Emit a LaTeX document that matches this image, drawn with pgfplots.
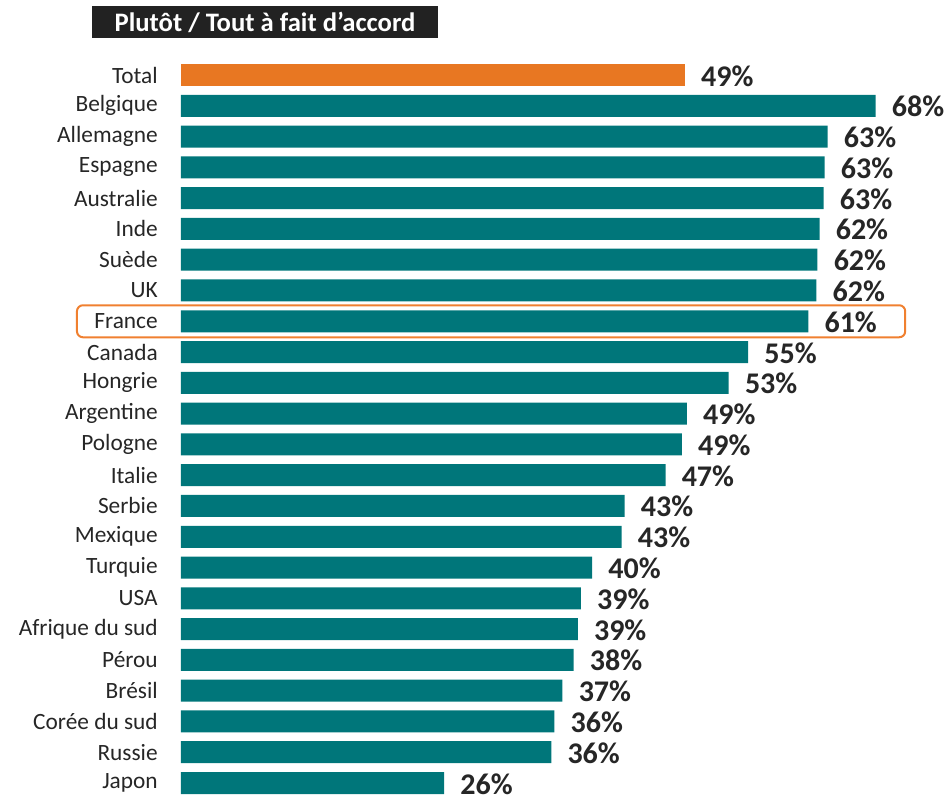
\documentclass[border=0pt]{standalone}
\usepackage{pgfplots}
\pgfplotsset{compat=1.18}
\usepackage{pgfplotstable}
\usepackage{fontspec}
\setmainfont{Carlito}

\definecolor{barteal}{HTML}{00767A}
\definecolor{barorange}{HTML}{E87722}
\definecolor{boxorange}{HTML}{F08030}
\definecolor{titlebg}{HTML}{222222}
\definecolor{txt}{HTML}{262626}

\pgfplotstableread[col sep=comma]{
idx,val,lab,name
0,49.4,49,Total
1,68.1,68,Belgique
2,63.4,63,Allemagne
3,63.1,63,Espagne
4,63.0,63,Australie
5,62.6,62,Inde
6,62.4,62,Suède
7,62.3,62,UK
8,61.5,61,France
9,55.6,55,Canada
10,53.7,53,Hongrie
11,49.6,49,Argentine
12,49.1,49,Pologne
13,47.5,47,Italie
14,43.5,43,Serbie
15,43.2,43,Mexique
16,40.3,40,Turquie
17,39.2,39,USA
18,38.9,39,Afrique du sud
19,38.5,38,Pérou
20,37.4,37,Brésil
21,36.6,36,Corée du sud
22,36.3,36,Russie
23,25.8,26,Japon
}\data

\begin{document}
\begin{tikzpicture}
% picture frame: 952x797 px at 0.75pt per px
\useasboundingbox (-135.75pt,-2.25pt) rectangle ++(714pt,597.75pt);
\begin{axis}[
    name=ax, at={(0,0)}, anchor=south west,
    scale only axis, width=535.5pt, height=547.5pt,
    xbar, bar width=16.5pt, bar shift=0pt,
    xmin=0, xmax=70, ymin=-0.357, ymax=23.357, y dir=reverse,
    axis line style={draw=none}, tick style={draw=none},
    xtick=\empty, ytick={0,...,23},
    yticklabels from table={\data}{name},
    yticklabel style={inner sep=0pt, xshift=-13pt, text=txt,
      font=\fontsize{17.5}{20}\selectfont},
    clip=false,
    point meta=explicit symbolic,
    nodes near coords={\pgfplotspointmeta\%},
    nodes near coords style={anchor=west, inner sep=0pt, xshift=12pt,
      yshift=-0.6pt, text=txt, font=\fontsize{22.5}{26}\selectfont\bfseries},
  ]
\addplot[fill=barorange, draw=none, skip coords between index={1}{24}]
  table[x=val, y=idx, meta=lab] {\data};
\addplot[fill=barteal, draw=none, skip coords between index={0}{1}]
  table[x=val, y=idx, meta=lab] {\data};
% France highlight
\draw[boxorange, line width=1.5pt, rounded corners=4.5pt]
  (axis cs:-10.2,7.48) rectangle (axis cs:71,8.52);
\end{axis}
\node[fill=titlebg, text=white, inner sep=0pt, minimum width=259.5pt,
  minimum height=24pt, font=\fontsize{20}{24}\selectfont\bfseries]
  at ([xshift=63pt,yshift=31.5pt]ax.north west) {Plutôt / Tout à fait d’accord};
\end{tikzpicture}
\end{document}
